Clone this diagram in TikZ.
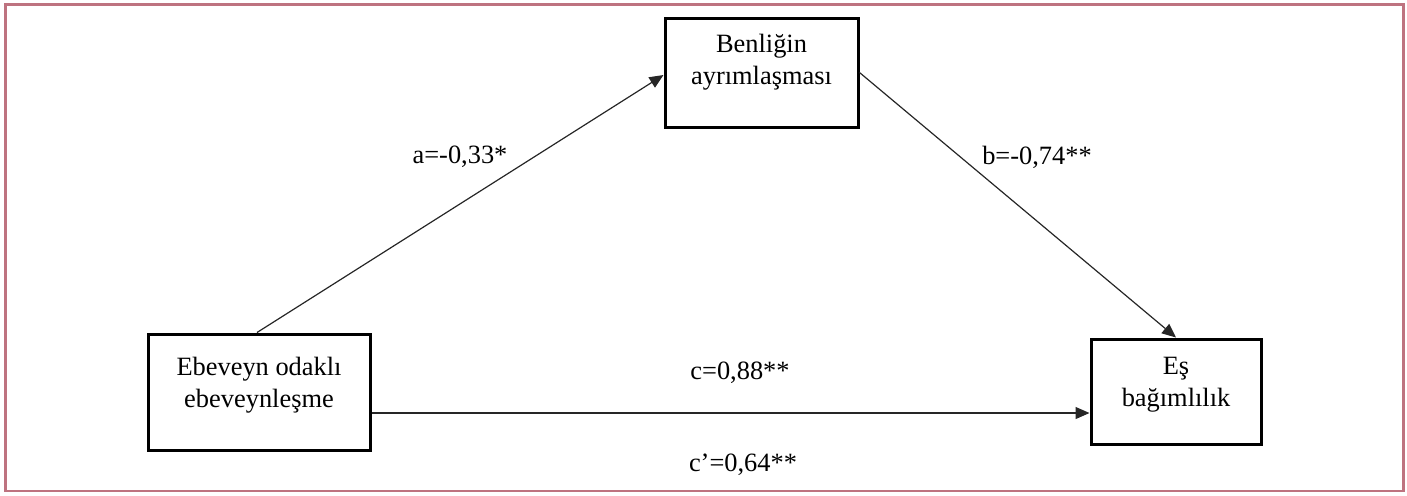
\documentclass[tikz,border=0pt]{standalone}
\usepackage{fontspec}
\setmainfont{Liberation Serif}
\usetikzlibrary{arrows.meta,calc}
\definecolor{frame}{RGB}{190,115,128}
\begin{document}
\begin{tikzpicture}[x=0.5pt,y=-0.5pt,
  box/.style={draw=black,line width=1.5pt,rectangle,inner sep=0pt},
  txt/.style={font=\fontsize{13.2}{16}\selectfont,align=center,inner sep=0pt},
  conn/.style={draw=black!85,line width=0.6pt,-{Triangle[length=7pt,width=6pt]}},
  lbl/.style={font=\fontsize{13.2}{16}\selectfont,inner sep=0pt}]
\useasboundingbox (0,0) rectangle (1407,495);
\draw[frame,line width=1.1pt] (5.5,4.5) rectangle (1403.5,491);
% boxes
\node[box,minimum width=96.5pt,minimum height=54.5pt] (tb) at (761.5,72.5) {};
\node[box,minimum width=111pt,minimum height=58pt] (lb) at (259,392) {};
\node[box,minimum width=85pt,minimum height=52.5pt] (rb) at (1176,391.5) {};
% box texts
\node[txt] (tbt) at (761.5,62) {Benliğin\\ayrımlaşması};
\node[txt] (lbt) at (259,385) {Ebeveyn odaklı\\ebeveynleşme};
\node[txt] (rbt) at (1176,384.5) {Eş\\bağımlılık};
% connectors
\coordinate (as) at ($(lb.north)+(-2,0)$);
\coordinate (ae) at ($(tb.west)+(0,2.5)$);
\draw[conn] (as) -- (ae);
\draw[conn] (tb.east) -- (rb.north);
\coordinate (cs) at ($(lb.east)+(0,21)$);
\draw[conn] (cs) -- (rb.west |- cs);
% labels
\node[lbl] (la) at (460,157) {a=-0,33*};
\node[lbl] (lbb) at (1037,157) {b=-0,74**};
\node[lbl] (lc) at (740,373) {c=0,88**};
\node[lbl] (lcp) at (743,465) {c’=0,64**};
\end{tikzpicture}
\end{document}
